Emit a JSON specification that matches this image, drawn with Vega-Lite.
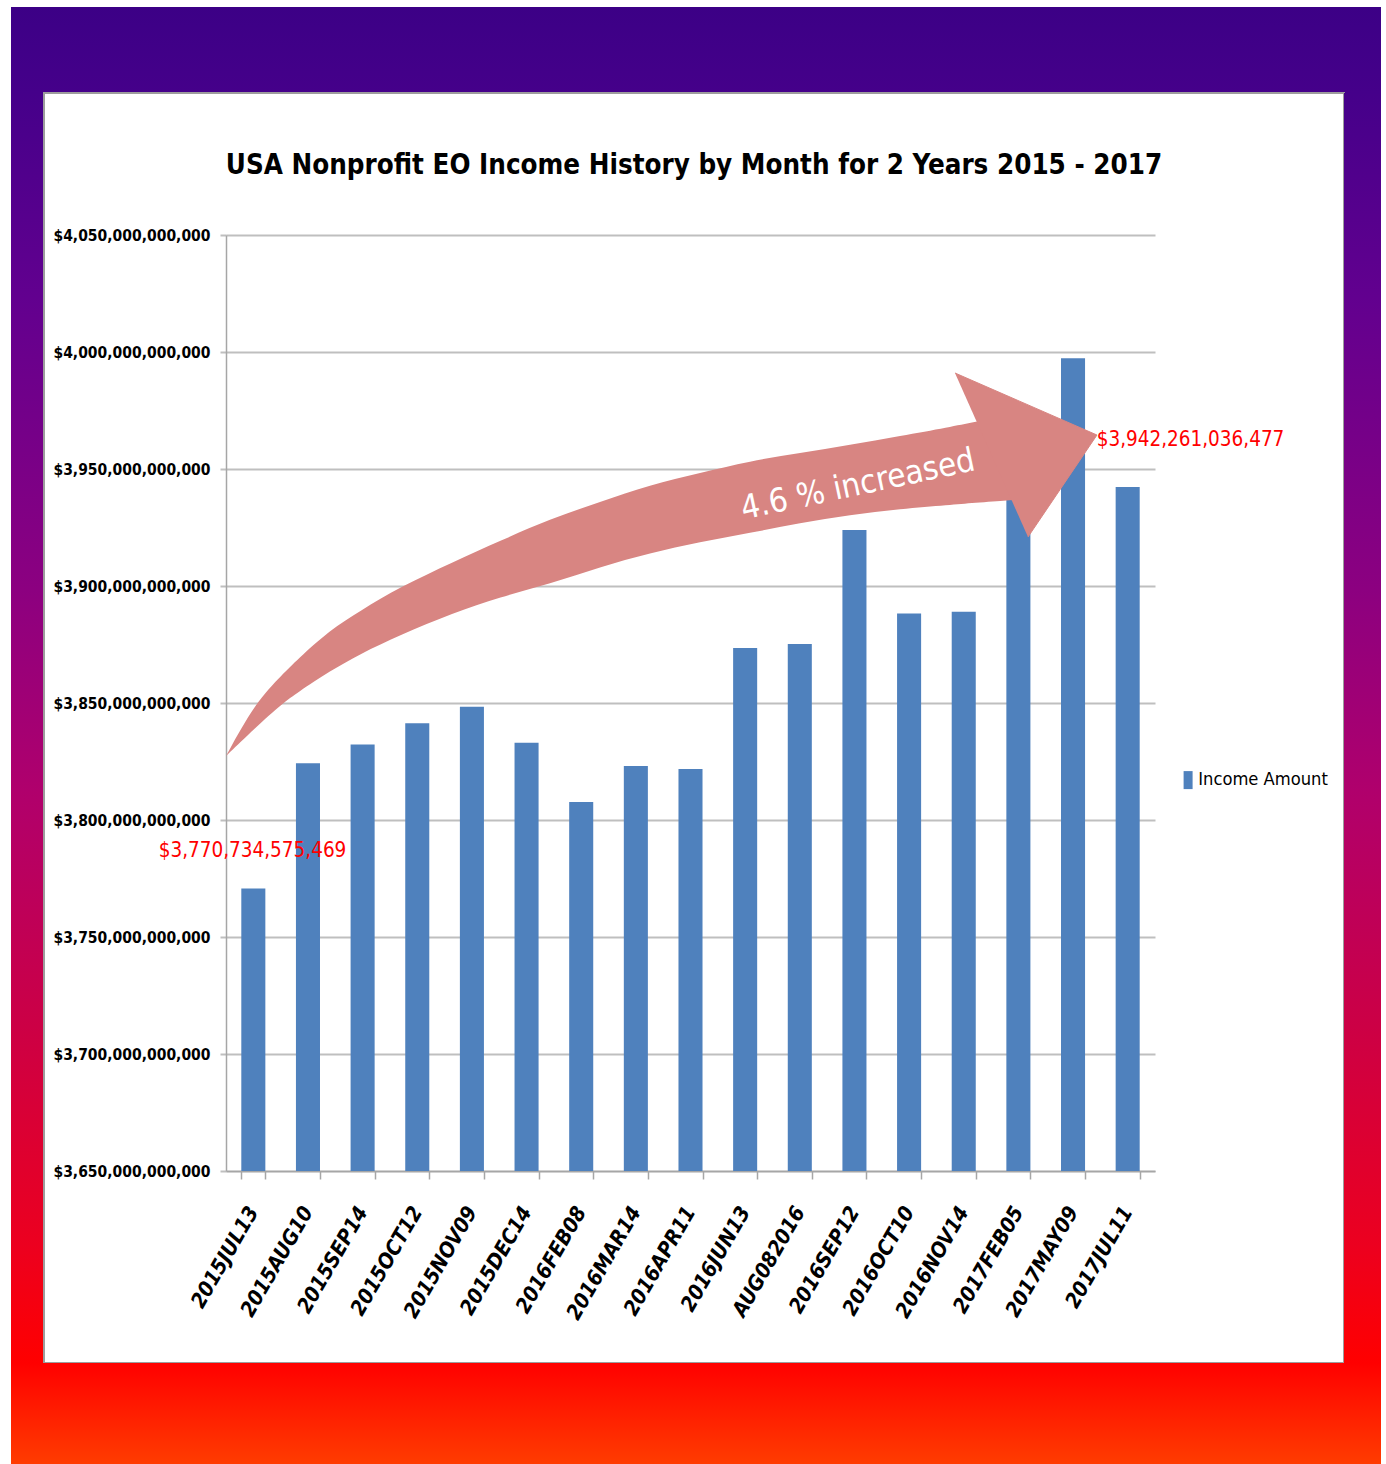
{
  "$schema": "https://vega.github.io/schema/vega-lite/v6.json",
  "background": "white",
  "padding": {"left": 11, "top": 7, "right": 5, "bottom": 0},
  "bounds": "flush",
  "spacing": 0,
  "columns": 3,
  "config": {"view": {"stroke": null}},
  "datasets": {
    "frame": [{"part": "frame"}],
    "bars": [
      {"date": "2015JUL13", "income": 3770734575469, "series": "Income Amount"},
      {"date": "2015AUG10", "income": 3824200000000, "series": "Income Amount"},
      {"date": "2015SEP14", "income": 3832300000000, "series": "Income Amount"},
      {"date": "2015OCT12", "income": 3841300000000, "series": "Income Amount"},
      {"date": "2015NOV09", "income": 3848400000000, "series": "Income Amount"},
      {"date": "2015DEC14", "income": 3833000000000, "series": "Income Amount"},
      {"date": "2016FEB08", "income": 3807700000000, "series": "Income Amount"},
      {"date": "2016MAR14", "income": 3823100000000, "series": "Income Amount"},
      {"date": "2016APR11", "income": 3821800000000, "series": "Income Amount"},
      {"date": "2016JUN13", "income": 3873500000000, "series": "Income Amount"},
      {"date": "AUG082016", "income": 3875200000000, "series": "Income Amount"},
      {"date": "2016SEP12", "income": 3923900000000, "series": "Income Amount"},
      {"date": "2016OCT10", "income": 3888300000000, "series": "Income Amount"},
      {"date": "2016NOV14", "income": 3889000000000, "series": "Income Amount"},
      {"date": "2017FEB05", "income": 3945000000000, "series": "Income Amount"},
      {"date": "2017MAY09", "income": 3997300000000, "series": "Income Amount"},
      {"date": "2017JUL11", "income": 3942261036477, "series": "Income Amount"}
    ],
    "arrowBody": [
      {"xi": 0.0, "income": 3827350000000, "income2": 3827350000000},
      {"xi": 0.531, "income": 3850000000000, "income2": 3839320000000},
      {"xi": 1.043, "income": 3862390000000, "income2": 3850000000000},
      {"xi": 1.299, "income": 3868380000000, "income2": 3854270000000},
      {"xi": 1.903, "income": 3881200000000, "income2": 3863680000000},
      {"xi": 2.452, "income": 3889320000000, "income2": 3870940000000},
      {"xi": 3.184, "income": 3899570000000, "income2": 3879060000000},
      {"xi": 4.154, "income": 3910260000000, "income2": 3888460000000},
      {"xi": 5.014, "income": 3919230000000, "income2": 3895300000000},
      {"xi": 5.929, "income": 3928630000000, "income2": 3900850000000},
      {"xi": 6.844, "income": 3935900000000, "income2": 3908120000000},
      {"xi": 7.759, "income": 3943160000000, "income2": 3914100000000},
      {"xi": 8.674, "income": 3948290000000, "income2": 3918800000000},
      {"xi": 9.589, "income": 3953420000000, "income2": 3922650000000},
      {"xi": 10.504, "income": 3956840000000, "income2": 3926920000000},
      {"xi": 11.419, "income": 3960260000000, "income2": 3930340000000},
      {"xi": 12.334, "income": 3964100000000, "income2": 3932910000000},
      {"xi": 13.248, "income": 3967950000000, "income2": 3934620000000},
      {"xi": 13.669, "income": 3970090000000, "income2": 3935470000000},
      {"xi": 14.402, "income": 3973080000000, "income2": 3936750000000}
    ],
    "arrowHead": [
      {"i": 1, "xi": 13.34, "income": 3991030000000},
      {"i": 2, "xi": 15.938, "income": 3964530000000},
      {"i": 3, "xi": 14.676, "income": 3920940000000}
    ],
    "arrowText": [{"text": "4.6 % increased", "xi": 11.565, "income": 3943200000000}],
    "labels": [
      {"text": "$3,770,734,575,469", "xi": 0.485, "income": 3786750000000},
      {"text": "$3,942,261,036,477", "xi": 17.65, "income": 3962400000000}
    ]
  },
  "concat": [
    {"width": 33, "height": 86, "data": {"name": "frame"},
     "mark": {"type": "rect", "strokeWidth": 0, "fill": {"gradient": "linear", "x1": 0, "y1": 0, "x2": 0, "y2": 1, "stops": [{"offset": 0, "color": "#3c0086"}, {"offset": 1, "color": "#45008a"}]}},
     "encoding": {"x": {"value": 0}, "x2": {"value": "width"}, "y": {"value": 0}, "y2": {"value": "height"}}},
    {"width": 1300, "height": 86, "data": {"name": "frame"},
     "mark": {"type": "rect", "strokeWidth": 0, "fill": {"gradient": "linear", "x1": 0, "y1": 0, "x2": 0, "y2": 1, "stops": [{"offset": 0, "color": "#3c0086"}, {"offset": 1, "color": "#45008a"}]}},
     "encoding": {"x": {"value": 0}, "x2": {"value": "width"}, "y": {"value": 0}, "y2": {"value": "height"}}},
    {"width": 37, "height": 86, "data": {"name": "frame"},
     "mark": {"type": "rect", "strokeWidth": 0, "fill": {"gradient": "linear", "x1": 0, "y1": 0, "x2": 0, "y2": 1, "stops": [{"offset": 0, "color": "#3c0086"}, {"offset": 1, "color": "#45008a"}]}},
     "encoding": {"x": {"value": 0}, "x2": {"value": "width"}, "y": {"value": 0}, "y2": {"value": "height"}}},
    {"width": 33, "height": 1270, "data": {"name": "frame"},
     "mark": {"type": "rect", "strokeWidth": 0, "fill": {"gradient": "linear", "x1": 0, "y1": 0, "x2": 0, "y2": 1, "stops": [{"offset": 0, "color": "#45008a"}, {"offset": 0.161, "color": "#62008f"}, {"offset": 0.391, "color": "#8c0080"}, {"offset": 0.55, "color": "#b0006c"}, {"offset": 0.735, "color": "#cc0045"}, {"offset": 0.907, "color": "#ec001f"}, {"offset": 1, "color": "#ff0000"}]}},
     "encoding": {"x": {"value": 0}, "x2": {"value": "width"}, "y": {"value": 0}, "y2": {"value": "height"}}},
    {
      "width": 1300,
      "height": 1270,
      "view": {"stroke": "#9d9d9d", "strokeWidth": 2, "fill": "white"},
      "title": {
        "text": "USA Nonprofit EO Income History by Month for 2 Years 2015 - 2017",
        "anchor": "middle",
        "frame": "group",
        "offset": -108,
        "baseline": "alphabetic",
        "font": "DejaVu Sans Condensed, sans-serif",
        "fontSize": 27.5,
        "fontWeight": "bold",
        "color": "black"
      },
      "encoding": {
        "y": {
          "field": "income", "type": "quantitative",
          "scale": {"domain": [3650000000000, 4050000000000], "range": [1078, 142], "zero": false, "nice": false},
          "axis": {
            "title": null, "offset": -182,
            "values": [3650000000000, 3700000000000, 3750000000000, 3800000000000, 3850000000000, 3900000000000, 3950000000000, 4000000000000, 4050000000000],
            "format": "$,.0f",
            "domainColor": "#a6a6a6", "domainWidth": 1.5,
            "tickColor": "#bfbfbf", "tickSize": 6, "tickWidth": 2,
            "grid": true, "gridColor": "#bfbfbf", "gridWidth": 2,
            "labelPadding": 10, "labelLimit": 0,
            "labelFont": "DejaVu Sans Condensed, sans-serif",
            "labelFontSize": 15.5, "labelFontWeight": "bold", "labelColor": "black"
          }
        }
      },
      "layer": [
        {
          "data": {"name": "bars"},
          "mark": {"type": "bar", "color": "#4f81bd"},
          "encoding": {
            "x": {
              "field": "date", "type": "nominal", "sort": null,
              "scale": {"range": [182, 1111], "paddingInner": 0.56, "paddingOuter": 0.28},
              "axis": {
                "title": null, "orient": "bottom", "offset": -192, "tickBand": "extent",
                "tickSize": 8, "tickColor": "#a6a6a6", "tickWidth": 1.5,
                "domainColor": "#a6a6a6", "domainWidth": 1.5, "grid": false,
                "labelAngle": -60, "labelPadding": 29, "labelLimit": 0,
                "labelFont": "DejaVu Sans Condensed, sans-serif",
                "labelFontSize": 21, "labelFontStyle": "italic", "labelFontWeight": "bold", "labelColor": "black"
              }
            },
            "y2": {"datum": 3650000000000},
            "color": {
              "field": "series", "type": "nominal",
              "scale": {"range": ["#4f81bd"]},
              "legend": {
                "title": null, "orient": "none", "legendX": 1168, "legendY": 764,
                "symbolType": "M-0.5,-1H0.5V1H-0.5Z", "symbolSize": 324, "symbolStrokeWidth": 0,
                "labelOffset": 1, "padding": 0, "labelLimit": 0,
                "labelFont": "DejaVu Sans Condensed, sans-serif",
                "labelFontSize": 18.2, "labelColor": "black"
              }
            }
          }
        },
        {
          "data": {"name": "arrowBody"},
          "mark": {"type": "area", "color": "#d88582", "interpolate": "basis"},
          "encoding": {
            "x": {"field": "xi", "type": "quantitative", "scale": {"domain": [0, 17], "range": [182, 1111], "zero": false, "nice": false}, "axis": null},
            "y2": {"field": "income2"}
          }
        },
        {
          "data": {"name": "arrowHead"},
          "mark": {"type": "line", "fill": "#d88582", "stroke": "#d88582", "strokeWidth": 1, "interpolate": "linear"},
          "encoding": {
            "x": {"field": "xi", "type": "quantitative", "scale": {"domain": [0, 17], "range": [182, 1111], "zero": false, "nice": false}, "axis": null},
            "order": {"field": "i", "type": "quantitative"}
          }
        },
        {
          "data": {"name": "arrowText"},
          "mark": {"type": "text", "color": "white", "angle": 348, "fontSize": 33, "font": "DejaVu Sans Condensed, sans-serif", "align": "center", "baseline": "middle"},
          "encoding": {
            "x": {"field": "xi", "type": "quantitative", "scale": {"domain": [0, 17], "range": [182, 1111], "zero": false, "nice": false}, "axis": null},
            "text": {"field": "text"}
          }
        },
        {
          "data": {"name": "labels"},
          "mark": {"type": "text", "color": "#ff0000", "fontSize": 20.5, "font": "DejaVu Sans Condensed, sans-serif", "align": "center", "baseline": "middle"},
          "encoding": {
            "x": {"field": "xi", "type": "quantitative", "scale": {"domain": [0, 17], "range": [182, 1111], "zero": false, "nice": false}, "axis": null},
            "text": {"field": "text"}
          }
        }
      ],
      "resolve": {"scale": {"x": "independent"}, "axis": {"x": "independent"}}
    },
    {"width": 37, "height": 1270, "data": {"name": "frame"},
     "mark": {"type": "rect", "strokeWidth": 0, "fill": {"gradient": "linear", "x1": 0, "y1": 0, "x2": 0, "y2": 1, "stops": [{"offset": 0, "color": "#45008a"}, {"offset": 0.161, "color": "#62008f"}, {"offset": 0.391, "color": "#8c0080"}, {"offset": 0.55, "color": "#b0006c"}, {"offset": 0.735, "color": "#cc0045"}, {"offset": 0.907, "color": "#ec001f"}, {"offset": 1, "color": "#ff0000"}]}},
     "encoding": {"x": {"value": 0}, "x2": {"value": "width"}, "y": {"value": 0}, "y2": {"value": "height"}}},
    {"width": 33, "height": 101, "data": {"name": "frame"},
     "mark": {"type": "rect", "strokeWidth": 0, "fill": {"gradient": "linear", "x1": 0, "y1": 0, "x2": 0, "y2": 1, "stops": [{"offset": 0, "color": "#ff0000"}, {"offset": 1, "color": "#ff3c00"}]}},
     "encoding": {"x": {"value": 0}, "x2": {"value": "width"}, "y": {"value": 0}, "y2": {"value": "height"}}},
    {"width": 1300, "height": 101, "data": {"name": "frame"},
     "mark": {"type": "rect", "strokeWidth": 0, "fill": {"gradient": "linear", "x1": 0, "y1": 0, "x2": 0, "y2": 1, "stops": [{"offset": 0, "color": "#ff0000"}, {"offset": 1, "color": "#ff3c00"}]}},
     "encoding": {"x": {"value": 0}, "x2": {"value": "width"}, "y": {"value": 0}, "y2": {"value": "height"}}},
    {"width": 37, "height": 101, "data": {"name": "frame"},
     "mark": {"type": "rect", "strokeWidth": 0, "fill": {"gradient": "linear", "x1": 0, "y1": 0, "x2": 0, "y2": 1, "stops": [{"offset": 0, "color": "#ff0000"}, {"offset": 1, "color": "#ff3c00"}]}},
     "encoding": {"x": {"value": 0}, "x2": {"value": "width"}, "y": {"value": 0}, "y2": {"value": "height"}}}
  ]
}
